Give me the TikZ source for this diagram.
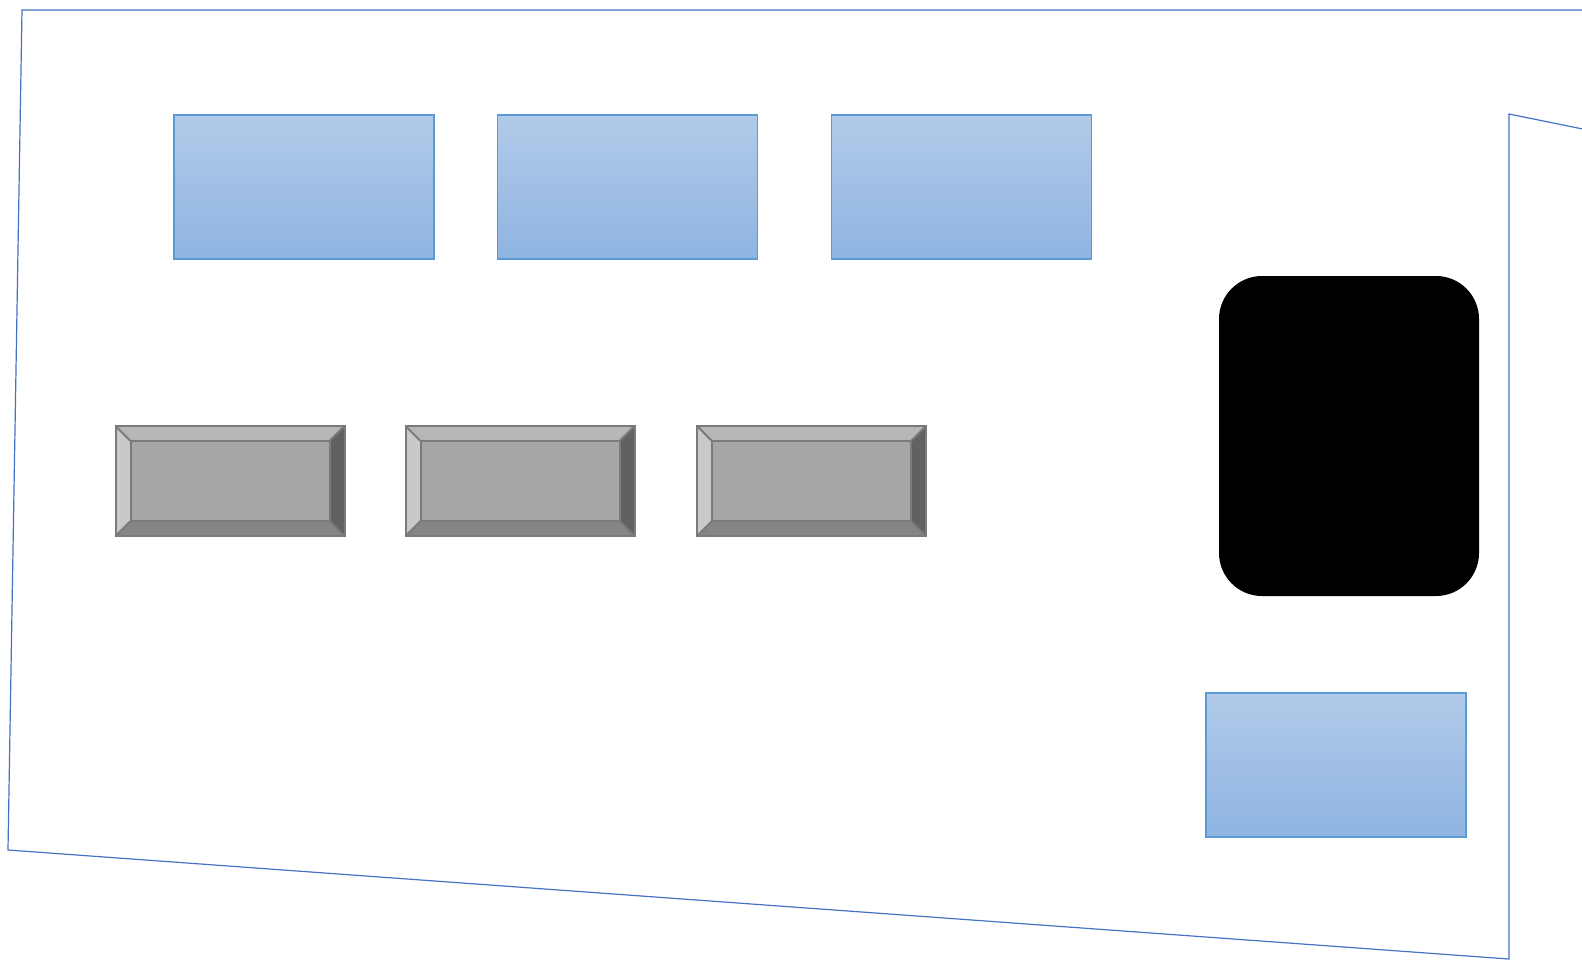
\documentclass[tikz,border=0pt]{standalone}
\usetikzlibrary{positioning}
\definecolor{panelblue}{HTML}{4472C4}
\definecolor{boxline}{HTML}{5B9BD5}
\definecolor{boxtop}{HTML}{B1CAE8}
\definecolor{boxbot}{HTML}{8FB4E2}
\definecolor{bevline}{HTML}{7A7A7A}
\definecolor{bevmid}{HTML}{A6A6A6}
\definecolor{bevtop}{HTML}{B7B7B7}
\definecolor{bevleft}{HTML}{C9C9C9}
\definecolor{bevright}{HTML}{616161}
\definecolor{bevbot}{HTML}{858585}
\begin{document}
\begin{tikzpicture}
  [x=0.5pt,y=-0.5pt,every node/.style={inner sep=0pt,outer sep=0pt}]
  \tikzstyle{bluebox} = [draw=boxline,line width=0.6pt,top color=boxtop,bottom color=boxbot,
    minimum width=130pt,minimum height=72pt]
  \tikzstyle{bevel} = [fill=bevmid,minimum width=114.5pt,minimum height=55pt]
  \tikzstyle{bevelin} = [minimum width=99.5pt,minimum height=40pt]
  \tikzstyle{bevedge} = [draw=bevline,line width=1pt]
  \useasboundingbox (0,0) rectangle (1582,960);
  % outline
  \draw[panelblue,line width=0.6pt,line join=miter]
    (1590,10) -- (22,10) -- (8,850) -- (1509,959) -- (1509,114) -- (1590,130.5);
  % blue boxes
  \node[bluebox] (b1) at (304,187) {};
  \node[bluebox] (b2) at (627.5,187) {};
  \node[bluebox] (b3) at (961.5,187) {};
  \node[bluebox] (b4) at (1336,765) {};
  % black block
  \node[fill=black,rounded corners=21.5pt,minimum width=130pt,minimum height=160pt] (blk) at (1349,436) {};
  % bevel buttons
  \node[bevel] (k1) at (230,481) {};
  \node[bevel] (k2) at (520,481) {};
  \node[bevel] (k3) at (811.5,481) {};
  \foreach \k in {k1,k2,k3} {
    \node[bevelin] (\k i) at (\k) {};
    \fill[bevtop] (\k.north west) -- (\k.north east) -- (\k i.north east) -- (\k i.north west) -- cycle;
    \fill[bevleft] (\k.north west) -- (\k i.north west) -- (\k i.south west) -- (\k.south west) -- cycle;
    \fill[bevright] (\k.north east) -- (\k.south east) -- (\k i.south east) -- (\k i.north east) -- cycle;
    \fill[bevbot] (\k.south west) -- (\k i.south west) -- (\k i.south east) -- (\k.south east) -- cycle;
    \draw[bevedge] (\k.north west) rectangle (\k.south east);
    \draw[bevedge] (\k i.north west) rectangle (\k i.south east);
    \foreach \c in {north west,north east,south west,south east}
      \draw[bevedge] (\k.\c) -- (\k i.\c);
  }
\end{tikzpicture}
\end{document}
